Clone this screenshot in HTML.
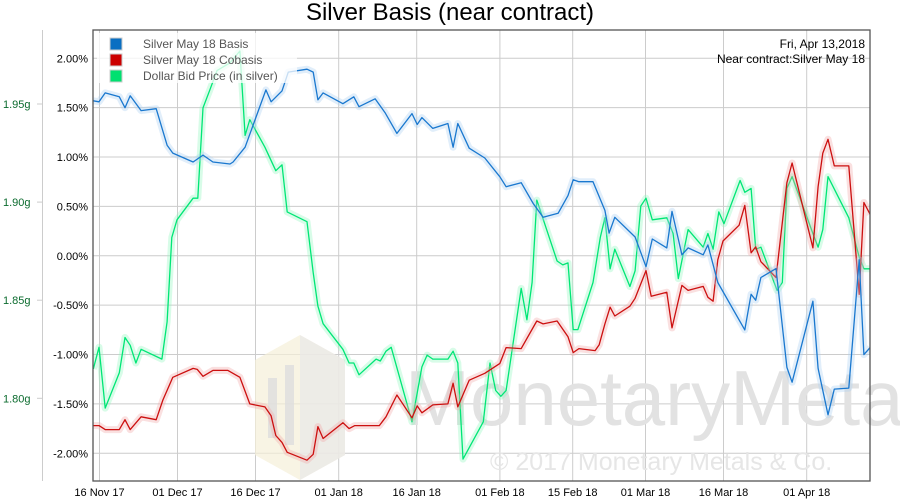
<!DOCTYPE html>
<html><head><meta charset="utf-8"><style>
body{margin:0;background:#fff;}
svg{display:block;font-family:"Liberation Sans","DejaVu Sans",sans-serif;}
</style></head><body>
<svg id="chart" width="900" height="500" viewBox="0 0 900 500">
<rect x="0" y="0" width="900" height="500" fill="#fff"/>
<text x="450" y="20" text-anchor="middle" font-size="24" fill="#000">Silver Basis (near contract)</text>
<g id="grid"></g>
<g id="wm">
 <polygon points="255,360 300,335 345,360 345,455 300,480 255,455" fill="#f5efd9" opacity="0.7"/>
 <polygon points="300,335 345,360 345,455 300,480" fill="#e8e8e8" opacity="0.7"/>
 <rect x="268" y="378" width="9" height="60" fill="#ddd" opacity="0.8"/>
 <rect x="285" y="365" width="9" height="80" fill="#ddd" opacity="0.8"/>
 <text x="405" y="425" font-size="78" fill="#e2e2e2">MonetaryMetals</text>
 <text x="490" y="470" font-size="25" fill="#e6e6e6">© 2017 Monetary Metals &amp; Co.</text>
</g>
<g id="series"></g>
<rect x="93" y="30" width="777" height="451" fill="none" stroke="#555" stroke-width="1.3"/>
<g id="axes"></g>
<g>
 <rect x="97" y="33" width="200" height="50" fill="#fff" opacity="0.75"/>
 <g><rect x="110" y="38" width="12" height="12" fill="#0a6fc2" stroke="#ccc"/><text x="143" y="48" font-size="12" fill="#555">Silver May 18 Basis</text></g>
 <g><rect x="110" y="54" width="12" height="12" fill="#c00" stroke="#ccc"/><text x="143" y="64" font-size="12" fill="#555">Silver May 18 Cobasis</text></g>
 <g><rect x="110" y="70" width="12" height="12" fill="#00e070" stroke="#ccc"/><text x="143" y="80" font-size="12" fill="#555">Dollar Bid Price (in silver)</text></g>
</g>
<text x="865" y="48" text-anchor="end" font-size="12" fill="#000">Fri, Apr 13,2018</text>
<text x="865" y="63" text-anchor="end" font-size="12" fill="#000">Near contract:Silver May 18</text>
</svg>
<script>
const pctTicks=[2,1.5,1,0.5,0,-0.5,-1,-1.5,-2];
const gramTicks=[1.95,1.90,1.85,1.80];
const dateTicks=[0,15,30,46,61,77,91,105,120,136];
const dateLabels=["16 Nov 17","01 Dec 17","16 Dec 17","01 Jan 18","16 Jan 18","01 Feb 18","15 Feb 18","01 Mar 18","16 Mar 18","01 Apr 18"];
const basisDays=[-1.2,-0.1,1.1,3.8,4.9,5.9,8.0,10.9,13.0,14.1,18.0,19.9,21.8,25.1,25.7,28.0,32.0,33.0,35.1,36.3,39.9,41.1,42.0,43.0,46.8,48.9,49.9,53.0,54.9,57.2,60.1,61.1,62.0,64.1,67.0,68.0,68.9,71.1,74.1,77.0,78.2,81.1,83.4,85.3,88.2,90.1,91.1,92.2,94.9,97.2,98.0,99.1,103.0,105.1,106.3,109.1,110.1,112.0,113.2,116.1,117.0,118.9,124.1,125.3,126.2,127.2,130.1,132.2,133.2,137.2,138.2,140.1,141.3,144.1,146.1,147.0,148.2];
const basisVals=[1.57,1.56,1.65,1.61,1.50,1.62,1.47,1.49,1.12,1.04,0.95,1.02,0.95,0.93,0.95,1.10,1.68,1.56,1.67,1.86,1.89,1.86,1.58,1.65,1.54,1.61,1.51,1.59,1.45,1.24,1.44,1.33,1.40,1.29,1.34,1.10,1.34,1.09,0.99,0.80,0.70,0.74,0.53,0.39,0.43,0.61,0.77,0.75,0.75,0.46,0.23,0.39,0.19,-0.11,0.17,0.08,0.45,0.01,0.08,0.01,0.11,-0.27,-0.75,-0.39,-0.45,-0.22,-0.13,-1.13,-1.28,-0.46,-1.14,-1.61,-1.35,-1.34,-0.04,-1.00,-0.93];
const cobasisDays=[-1.2,-0.1,1.1,3.8,4.9,5.9,8.0,10.9,12.2,14.1,18.0,18.8,19.9,21.8,24.7,27.0,28.9,31.8,33.0,33.9,35.1,36.1,39.9,41.1,42.0,43.0,46.8,48.0,49.1,53.8,55.1,57.2,60.1,61.1,62.0,64.1,67.0,68.0,68.9,71.1,74.1,77.0,78.2,81.1,84.1,85.3,88.0,90.1,91.1,92.2,95.3,96.1,97.2,98.2,99.1,102.0,103.0,105.1,106.1,109.1,110.1,112.0,113.2,116.1,117.0,118.0,118.9,119.9,123.0,124.1,125.3,126.2,127.2,130.1,132.2,133.2,137.2,138.2,139.1,140.1,141.3,144.1,146.1,147.0,148.2];
const cobasisVals=[-1.72,-1.72,-1.76,-1.76,-1.66,-1.76,-1.63,-1.66,-1.46,-1.23,-1.14,-1.15,-1.22,-1.16,-1.16,-1.23,-1.50,-1.53,-1.62,-1.82,-1.89,-1.99,-2.07,-2.01,-1.73,-1.85,-1.69,-1.75,-1.72,-1.72,-1.63,-1.41,-1.64,-1.52,-1.59,-1.51,-1.50,-1.29,-1.53,-1.26,-1.19,-1.09,-0.93,-0.94,-0.66,-0.69,-0.66,-0.82,-0.98,-0.94,-0.96,-0.90,-0.69,-0.52,-0.61,-0.51,-0.43,-0.15,-0.41,-0.37,-0.73,-0.30,-0.35,-0.31,-0.42,-0.46,-0.04,0.15,0.31,0.51,0.03,0.09,-0.06,-0.22,0.74,0.94,0.08,0.70,1.04,1.18,0.91,0.91,-0.39,0.54,0.42];
const dollarDays=[-1.2,-0.1,1.1,3.8,4.9,5.9,7.0,8.0,12.0,13.0,13.9,14.9,18.0,18.9,19.9,21.2,22.6,25.1,27.0,28.0,28.9,31.8,33.9,35.1,36.1,39.9,41.1,42.0,43.0,46.8,48.0,48.9,49.9,53.2,54.0,55.1,56.1,60.1,62.0,63.0,64.1,67.0,68.0,68.9,69.9,73.8,75.1,76.2,77.2,78.2,81.1,82.2,83.2,84.1,88.0,89.1,90.1,91.1,92.0,94.9,96.3,97.2,98.2,99.1,102.0,103.0,104.1,105.1,106.3,109.1,110.3,111.3,113.2,116.1,117.0,118.0,119.1,120.1,123.2,124.1,125.3,126.2,127.2,130.3,131.3,132.2,133.2,137.2,138.2,139.1,140.1,144.1,146.1,147.0,148.2];
const dollarVals=[1.815,1.826,1.795,1.813,1.831,1.827,1.818,1.825,1.820,1.839,1.882,1.891,1.902,1.902,1.948,1.957,1.967,1.971,1.977,1.934,1.942,1.928,1.916,1.919,1.895,1.890,1.864,1.847,1.838,1.825,1.818,1.818,1.812,1.820,1.819,1.824,1.826,1.788,1.816,1.822,1.820,1.820,1.824,1.818,1.769,1.788,1.818,1.804,1.801,1.804,1.856,1.840,1.859,1.901,1.870,1.868,1.869,1.835,1.835,1.859,1.882,1.892,1.866,1.876,1.857,1.865,1.898,1.902,1.891,1.892,1.884,1.861,1.886,1.877,1.884,1.876,1.895,1.889,1.911,1.905,1.907,1.876,1.877,1.855,1.859,1.907,1.913,1.884,1.877,1.886,1.913,1.892,1.872,1.866,1.866];

const NS="http://www.w3.org/2000/svg";
const X0=93,X1=870,Y0=30,Y1=481;
function xScale(d){return 99.5+d*5.2;}
function yPct(p){return 255.8-p*98.75;}
function yGram(g){return 104+(1.95-g)*1962;}
function mk(tag,attrs,parent){const e=document.createElementNS(NS,tag);for(const k in attrs)e.setAttribute(k,attrs[k]);parent.appendChild(e);return e;}
const grid=document.getElementById('grid'),axes=document.getElementById('axes'),series=document.getElementById('series');
pctTicks.forEach(p=>{
  const y=yPct(p);
  const l=mk('line',{x1:X0,x2:X1,y1:y,y2:y,stroke:'#ccc','stroke-width':1},grid);
  
  
  const t=mk('text',{x:88,y:y+4,'text-anchor':'end','font-size':11,fill:'#000'},axes);
  t.textContent=p.toFixed(2)+'%';
  
  
});
dateTicks.forEach((d,i)=>{
  const x=xScale(d);
  const l=mk('line',{x1:x,x2:x,y1:Y0,y2:Y1,stroke:'#ccc','stroke-width':1},grid);
  
  
  const t=mk('text',{x:x,y:496,'text-anchor':'middle','font-size':11,fill:'#000'},axes);
  t.textContent=dateLabels[i];
  
  
});
const ga=mk('line',{x1:42.5,x2:42.5,y1:30,y2:481,stroke:'#ccc','stroke-width':1},axes);


gramTicks.forEach(g=>{
  const y=yGram(g);
  mk('line',{x1:37,x2:42,y1:y,y2:y,stroke:'#ccc'},axes);
  const t=mk('text',{x:3,y:y+4,'font-size':11,fill:'#0b6b2e'},axes);
  t.textContent=g.toFixed(2)+'g';
  
  
});
function draw(days,vals,ys,color,glow,name){
  const pts=days.map((d,i)=>xScale(d).toFixed(1)+','+ys(vals[i]).toFixed(1)).join(' ');
  const g=mk('g',{},series);
  
  
  mk('polyline',{points:pts,fill:'none',stroke:glow,'stroke-width':7,'stroke-opacity':0.35,'stroke-linejoin':'round'},g);
  mk('polyline',{points:pts,fill:'none',stroke:color,'stroke-width':1.3,'stroke-linejoin':'round'},g);
}
const clip=mk('clipPath',{id:'pc'},document.getElementById('chart'));
mk('rect',{x:X0,y:Y0,width:X1-X0,height:Y1-Y0},clip);
series.setAttribute('clip-path','url(#pc)');
draw(dollarDays,dollarVals,yGram,'#00e676','#8ff5bd','dollar-bid-line');
draw(cobasisDays,cobasisVals,yPct,'#cc1010','#f2a6a6','cobasis-line');
draw(basisDays,basisVals,yPct,'#1a78cf','#a8cdf0','basis-line');
</script>
</body></html>
